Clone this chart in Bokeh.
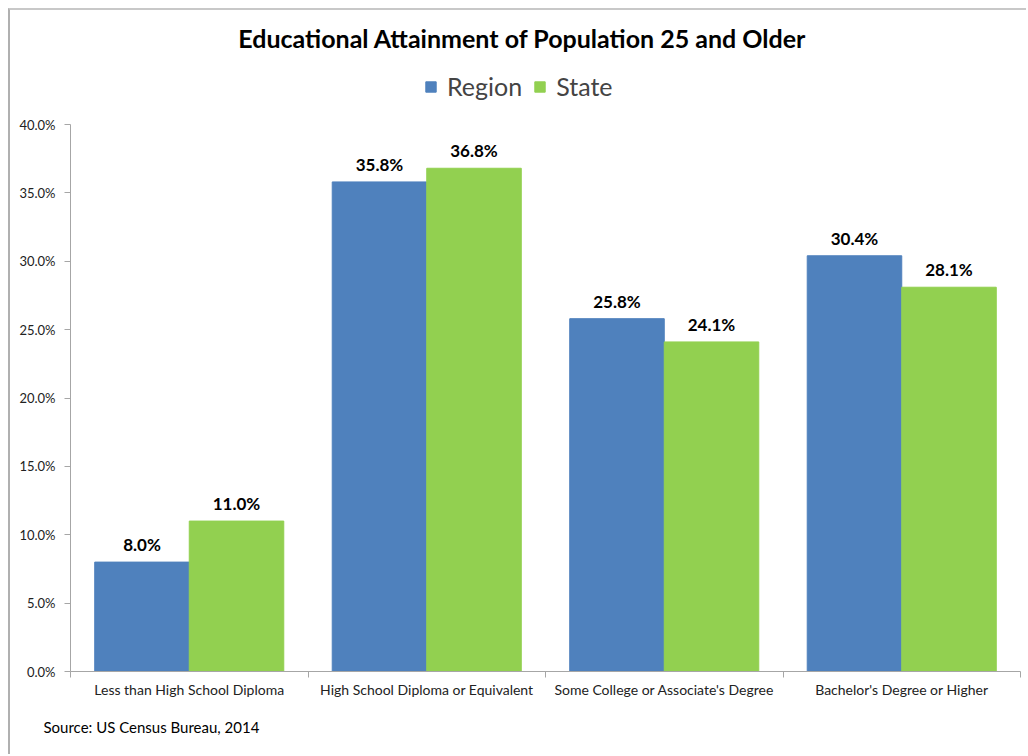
from bokeh.plotting import figure
from bokeh.models import (ColumnDataSource, FixedTicker, PrintfTickFormatter, Range1d,
                          LabelSet, Legend, LegendItem, Label, Title)
from bokeh.core.properties import value
from bokeh.embed import file_html
from bokeh.resources import INLINE

categories = ["Less than High School Diploma", "High School Diploma or Equivalent",
              "Some College or Associate's Degree", "Bachelor's Degree or Higher"]
region = [8.0, 35.8, 25.8, 30.4]
state = [11.0, 36.8, 24.1, 28.1]
y_ticks = [0, 5, 10, 15, 20, 25, 30, 35, 40]
y_max = 40

FONT = "Lato"
BLUE = "#4F81BD"
GREEN = "#92D050"
AXIS = "#A6A6A6"

n = len(categories)
centers = [i + 0.5 for i in range(n)]
bw = 0.398
src = ColumnDataSource(dict(
    xr=[c - bw / 2 for c in centers], xs=[c + bw / 2 for c in centers],
    region=region, state=state,
    lr=[f"{v:.1f}%" for v in region], ls=[f"{v:.1f}%" for v in state]))

# frame spans 0..40 over 547px; extra headroom above holds title and legend
y_top = y_max * (661 / 547)
p = figure(width=1018, height=746, output_backend="svg", toolbar_location=None,
           x_range=Range1d(0, n), y_range=Range1d(0, y_top),
           min_border_left=60, min_border_right=8, min_border_top=0, min_border_bottom=85)
p.margin = (8, 0, 0, 8)
p.styles = {"border-left": "2px solid #B0B0B0", "border-top": "2px solid #C8C8C8"}
p.outline_line_color = None
p.xgrid.visible = False
p.ygrid.visible = False

r1 = p.vbar(x="xr", top="region", width=bw, source=src, color=BLUE)
r2 = p.vbar(x="xs", top="state", width=bw, source=src, color=GREEN)

for col, xcol, ycol in (("lr", "xr", "region"), ("ls", "xs", "state")):
    p.add_layout(LabelSet(x=xcol, y=ycol, text=col, source=src, text_align="center",
                          text_baseline="bottom", y_offset=7, text_font=value(FONT),
                          text_font_style="bold", text_font_size="17px", text_color="black"))

# x axis
p.xaxis.ticker = FixedTicker(ticks=centers, minor_ticks=list(range(n + 1)))
p.xaxis.major_label_overrides = {c: categories[i] for i, c in enumerate(centers)}
p.xaxis.major_tick_line_color = None
p.xaxis.minor_tick_line_color = AXIS
p.xaxis.minor_tick_out = 6
p.xaxis.minor_tick_in = 0
p.xaxis.axis_line_color = AXIS
p.xaxis.major_label_text_font = FONT
p.xaxis.major_label_text_font_size = "14px"
p.xaxis.major_label_text_color = "#222222"
p.xaxis.major_label_standoff = 3

# y axis
p.yaxis.ticker = FixedTicker(ticks=y_ticks)
p.yaxis.bounds = (0, y_max)
p.yaxis.formatter = PrintfTickFormatter(format="%.1f%%")
p.yaxis.minor_tick_line_color = None
p.yaxis.major_tick_line_color = AXIS
p.yaxis.major_tick_out = 6
p.yaxis.major_tick_in = 0
p.yaxis.axis_line_color = AXIS
p.yaxis.major_label_text_font = FONT
p.yaxis.major_label_text_font_size = "13px"
p.yaxis.major_label_text_color = "#222222"
p.yaxis.major_label_standoff = 9

legend = Legend(items=[LegendItem(label="Region", renderers=[r1]),
                       LegendItem(label="State", renderers=[r2])],
                orientation="horizontal", location=(354, 570),
                label_text_font=FONT, label_text_font_size="25px",
                glyph_width=13, glyph_height=13, spacing=11, label_standoff=10,
                border_line_color=None, background_fill_alpha=0, margin=0, padding=4)
p.add_layout(legend, "center")

p.add_layout(Label(x=452, y=634, x_units="screen", y_units="screen",
                   text="Educational Attainment of Population 25 and Older",
                   text_align="center", text_baseline="middle", text_font=FONT,
                   text_font_style="bold", text_font_size="25px", text_color="black"))

spacer = Title(text=" ", text_font_size="9px", standoff=0)
p.add_layout(spacer, "below")
src_title = Title(text="Source: US Census Bureau, 2014", align="left", offset=-27,
                  standoff=6, text_font=FONT, text_font_size="15px",
                  text_font_style="normal", text_color="black")
p.add_layout(src_title, "below")

open("out.html", "w").write(file_html(p, INLINE))
